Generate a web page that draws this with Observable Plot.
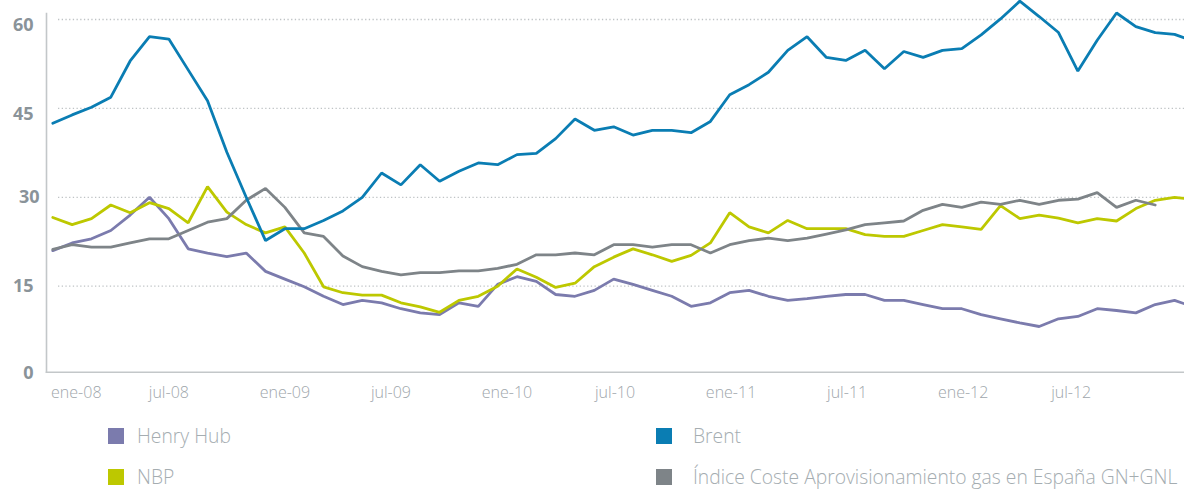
<!DOCTYPE html>
<html><head><meta charset="utf-8">
<script src="https://cdn.jsdelivr.net/npm/d3@7"></script>
<script src="https://cdn.jsdelivr.net/npm/@observablehq/plot@0.6"></script>
<style>
html,body{margin:0;padding:0;background:#fff;overflow:hidden;}
#wrap{position:relative;width:1184px;height:491px;overflow:hidden;font-family:"Open Sans",sans-serif;}
#chart{position:absolute;left:0;top:0;}
.lg{position:absolute;display:flex;align-items:center;height:20px;font-weight:300;font-size:19.3px;color:#a5adb1;white-space:nowrap;line-height:20px;}
.lg .sw{width:16px;height:16px;flex:none;}
</style></head><body><div id="wrap"><div id="chart"></div></div>
<script>
// Months: Jan 2008 .. Dec 2012 (index 0..59)
const monthIndex = Array.from({length: 60}, (_, i) => i);
const tickMonths = [0, 6, 12, 18, 24, 30, 36, 42, 48, 54];
const tickLabels = ["ene-08","jul-08","ene-09","jul-09","ene-10","jul-10","ene-11","jul-11","ene-12","jul-12"];
const yTicks = [0, 15, 30, 45, 60];

const seriesNames = ["Henry Hub", "NBP", "Índice Coste Aprovisionamiento gas en España GN+GNL", "Brent"];
const seriesColors = ["#7b7bad", "#bdc800", "#7e8488", "#0a7db3"];

const henryHub = [21.0, 22.3, 23.0, 24.4, 27.0, 30.0, 26.4, 21.3, 20.6, 20.0, 20.6, 17.5, 16.2, 14.9, 13.3,
  11.9, 12.6, 12.2, 11.2, 10.5, 10.2, 12.2, 11.6, 15.3, 16.6, 15.8, 13.6, 13.3, 14.3, 16.2,
  15.3, 14.3, 13.3, 11.6, 12.2, 13.9, 14.3, 13.3, 12.6, 12.9, 13.3, 13.6, 13.6, 12.6, 12.6,
  11.9, 11.2, 11.2, 10.2, 9.5, 8.8, 8.2, 9.5, 9.9, 11.2, 10.9, 10.5, 11.9, 12.6, 11.5];
const nbp = [26.6, 25.4, 26.4, 28.7, 27.4, 29.1, 28.1, 25.7, 31.8, 27.5, 25.4, 24.0, 25.0, 20.6, 14.9,
  13.9, 13.5, 13.5, 12.2, 11.5, 10.6, 12.6, 13.3, 15.0, 17.9, 16.5, 14.8, 15.5, 18.3, 19.9,
  21.3, 20.3, 19.2, 20.2, 22.3, 27.4, 25.0, 24.0, 26.1, 24.7, 24.7, 24.7, 23.7, 23.4, 23.4,
  24.4, 25.4, 25.0, 24.6, 28.6, 26.4, 27.0, 26.5, 25.7, 26.4, 26.0, 28.1, 29.5, 30.0, 29.6];
const indice = [21.2, 22.0, 21.6, 21.6, 22.3, 23.0, 23.0, 24.4, 25.8, 26.4, 29.5, 31.5, 28.3, 24.0, 23.4,
  20.1, 18.3, 17.5, 16.9, 17.3, 17.3, 17.6, 17.6, 18.0, 18.7, 20.3, 20.3, 20.6, 20.3, 22.0,
  22.0, 21.6, 22.0, 22.0, 20.6, 22.0, 22.7, 23.1, 22.7, 23.1, 23.8, 24.5, 25.4, 25.7, 26.0,
  27.8, 28.8, 28.3, 29.2, 28.8, 29.5, 28.8, 29.5, 29.7, 30.8, 28.3, 29.5, 28.7];
const brent = [42.5, 43.9, 45.2, 46.9, 53.0, 57.1, 56.7, 51.5, 46.3, 37.6, 30.0, 22.7, 24.7, 24.7, 26.1,
  27.7, 30.0, 34.1, 32.1, 35.5, 32.7, 34.4, 35.8, 35.5, 37.2, 37.4, 39.9, 43.2, 41.3, 41.9,
  40.5, 41.3, 41.3, 40.9, 42.8, 47.3, 49.0, 51.1, 54.8, 57.1, 53.6, 53.1, 54.8, 51.7, 54.6,
  53.6, 54.8, 55.1, 57.4, 60.1, 63.1, 60.5, 57.8, 51.3, 56.5, 61.1, 58.8, 57.8, 57.5, 56.3];

const seriesValues = [henryHub, nbp, indice, brent];
const rows = [];
seriesNames.forEach((name, s) => {
  seriesValues[s].forEach((v, i) => rows.push({month: monthIndex[i], value: v, series: name}));
});

const xFmt = d => tickLabels[tickMonths.indexOf(d)];
const xAxisStyle = {tickSize: 0, tickPadding: 14, tickFormat: xFmt, fontSize: 16, fontWeight: 300, fill: "#9ea6ab", label: null};
const yAxisStyle = {tickSize: 0, tickPadding: 13, tickFormat: d => String(d), fontSize: 18, fontWeight: 700, fill: "#8a9399", label: null};

const H = 410;
const chart = Plot.plot({
  width: 1184, height: H,
  marginTop: 13, marginBottom: H - 371.7, marginLeft: 46, marginRight: 0,
  x: {type: "linear", domain: [0, 59], range: [52.3, 1193.4], axis: null},
  y: {domain: [0, 60], range: [374.6, 19], axis: null},
  color: {domain: seriesNames, range: seriesColors},
  style: {fontFamily: "'Open Sans', sans-serif", background: "transparent", overflow: "hidden"},
  marks: [
    Plot.gridY(yTicks.filter(d => d > 0), {stroke: "#bfc3c5", strokeOpacity: 1, strokeDasharray: "1.3,2.4", strokeWidth: 1.3, insetLeft: 12}),
    Plot.frame({anchor: "left", stroke: "#c3c7c9", strokeWidth: 1.6}),
    Plot.frame({anchor: "bottom", stroke: "#c3c7c9", strokeWidth: 1.6}),
    Plot.line(rows, {x: "month", y: "value", z: "series", stroke: "series", strokeWidth: 2.8, strokeLinejoin: "miter"}),
    Plot.axisY([60, 45], {...yAxisStyle, dy: 5.5}),
    Plot.axisY([30], {...yAxisStyle, dx: 6}),
    Plot.axisY([15], yAxisStyle),
    Plot.axisY([0], {...yAxisStyle, dy: -2}),
    Plot.axisX([0], {...xAxisStyle, dx: 23.5}),
    Plot.axisX([6, 12], xAxisStyle),
    Plot.axisX([18, 24], {...xAxisStyle, dx: -10}),
    Plot.axisX([30, 36, 42, 48], {...xAxisStyle, dx: -18}),
    Plot.axisX([54], {...xAxisStyle, dx: -26})
  ]
});
document.getElementById("chart").appendChild(chart);

// Legend (two columns, two rows); top = vertical centre minus half the row height
const legendOrder = [
  {name: seriesNames[0], left: 108, center: 436},
  {name: seriesNames[3], left: 656, center: 436},
  {name: seriesNames[1], left: 108, center: 477},
  {name: seriesNames[2], left: 656, center: 477}
];
const wrap = document.getElementById("wrap");
legendOrder.forEach(item => {
  const div = document.createElement("div");
  div.className = "lg";
  div.style.left = item.left + "px";
  div.style.top = (item.center - 10) + "px";
  const sw = document.createElement("span");
  sw.className = "sw";
  sw.style.background = seriesColors[seriesNames.indexOf(item.name)];
  sw.style.marginRight = (item.left < 600 ? 13 : 21) + "px";
  const tx = document.createElement("span");
  tx.textContent = item.name;
  div.appendChild(sw);
  div.appendChild(tx);
  wrap.appendChild(div);
});
</script>
</body></html>
